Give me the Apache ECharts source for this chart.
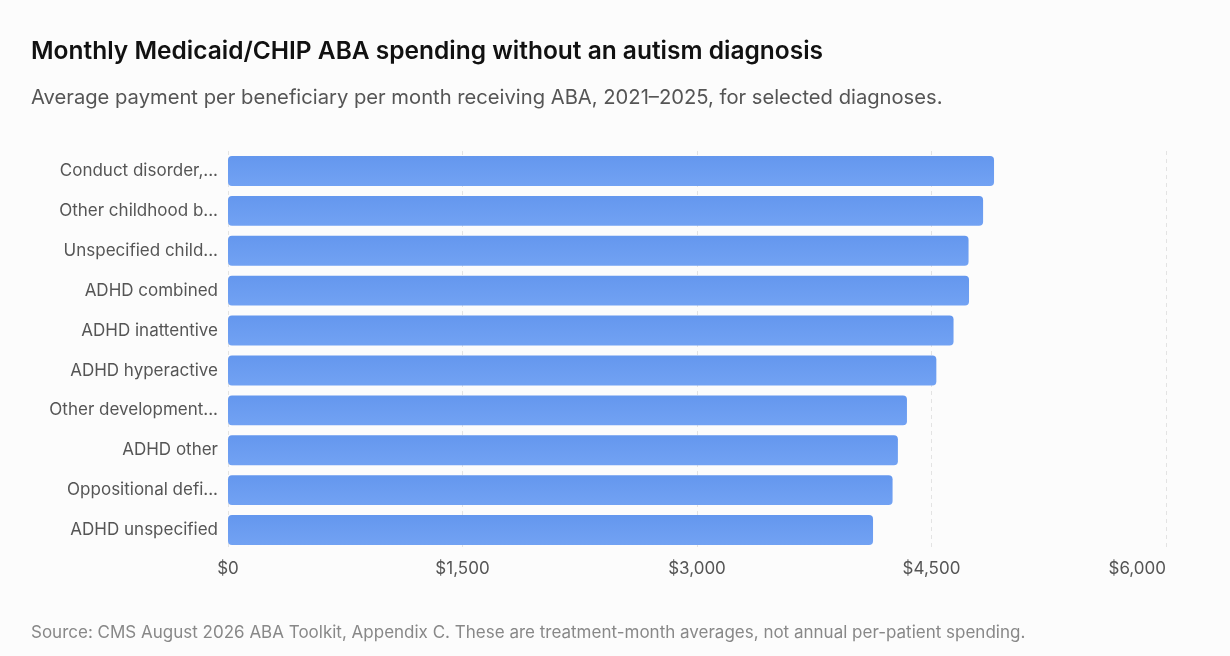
<!DOCTYPE html>
<html>
<head>
<meta charset="utf-8">
<script src="https://cdn.jsdelivr.net/npm/echarts@6/dist/echarts.min.js"></script>
<style>
  html, body { margin: 0; padding: 0; background: #fcfcfc; }
  #chart { width: 1230px; height: 656px; }
</style>
</head>
<body>
<div id="chart"></div>
<script>
// Diagnoses, top to bottom as drawn
const diagnoses = [
  'Conduct disorder, unspecified',
  'Other childhood behavioral disorders',
  'Unspecified childhood emotional disorder',
  'ADHD combined',
  'ADHD inattentive',
  'ADHD hyperactive',
  'Other developmental disorders',
  'ADHD other',
  'Oppositional defiant disorder',
  'ADHD unspecified'
];
// Average monthly payment per beneficiary (USD)
const monthlyPayment = [4900, 4830, 4737, 4740, 4641, 4531, 4343, 4285, 4251, 4126];
const xTicks = [0, 1500, 3000, 4500, 6000];

const font = 'Inter, "Noto Sans", sans-serif';
const chart = echarts.init(document.getElementById('chart'), null, { renderer: 'canvas' });

// labels are cut to 17 characters, as in the source chart
const shorten = (s) => (s.length > 17 ? s.slice(0, 17) + '...' : s);

chart.setOption({
  backgroundColor: '#fcfcfc',
  animation: false,
  title: [
    {
      text: 'Monthly Medicaid/CHIP ABA spending without an autism diagnosis',
      left: 26, top: 34,
      textStyle: { fontFamily: font, fontSize: 24.5, fontWeight: 600, color: '#111' }
    },
    {
      text: 'Average payment per beneficiary per month receiving ABA, 2021\u20132025, for selected diagnoses.',
      left: 26, top: 82.5,
      textStyle: { fontFamily: font, fontSize: 20.2, fontWeight: 400, color: '#555' }
    },
    {
      text: 'Source: CMS August 2026 ABA Toolkit, Appendix C. These are treatment-month averages, not annual per-patient spending.',
      left: 26, top: 619,
      textStyle: { fontFamily: font, fontSize: 17, fontWeight: 400, color: '#888' }
    }
  ],
  grid: { left: 228, right: 64, top: 151, bottom: 106, containLabel: false },
  xAxis: {
    type: 'value',
    min: xTicks[0],
    max: xTicks[xTicks.length - 1],
    interval: xTicks[1] - xTicks[0],
    axisLine: { show: false },
    axisTick: { show: false },
    splitLine: { show: true, lineStyle: { color: '#e3e3e3', type: [4, 4], width: 1 } },
    axisLabel: {
      fontFamily: font, fontSize: 17, color: '#555', margin: 10,
      alignMaxLabel: 'right',
      formatter: (v) => '$' + v.toLocaleString('en-US')
    }
  },
  yAxis: {
    type: 'category',
    data: diagnoses,
    inverse: true,
    axisLine: { show: false },
    axisTick: { show: false },
    axisLabel: {
      fontFamily: font, fontSize: 17, color: '#555', margin: 10,
      formatter: shorten
    }
  },
  series: [{
    type: 'bar',
    data: monthlyPayment,
    barCategoryGap: '25%',
    itemStyle: {
      borderRadius: 4,
      color: new echarts.graphic.LinearGradient(0, 0, 0, 1, [
        { offset: 0, color: '#6497ee' },
        { offset: 1, color: '#72a2f3' }
      ])
    }
  }]
});
</script>
</body>
</html>
